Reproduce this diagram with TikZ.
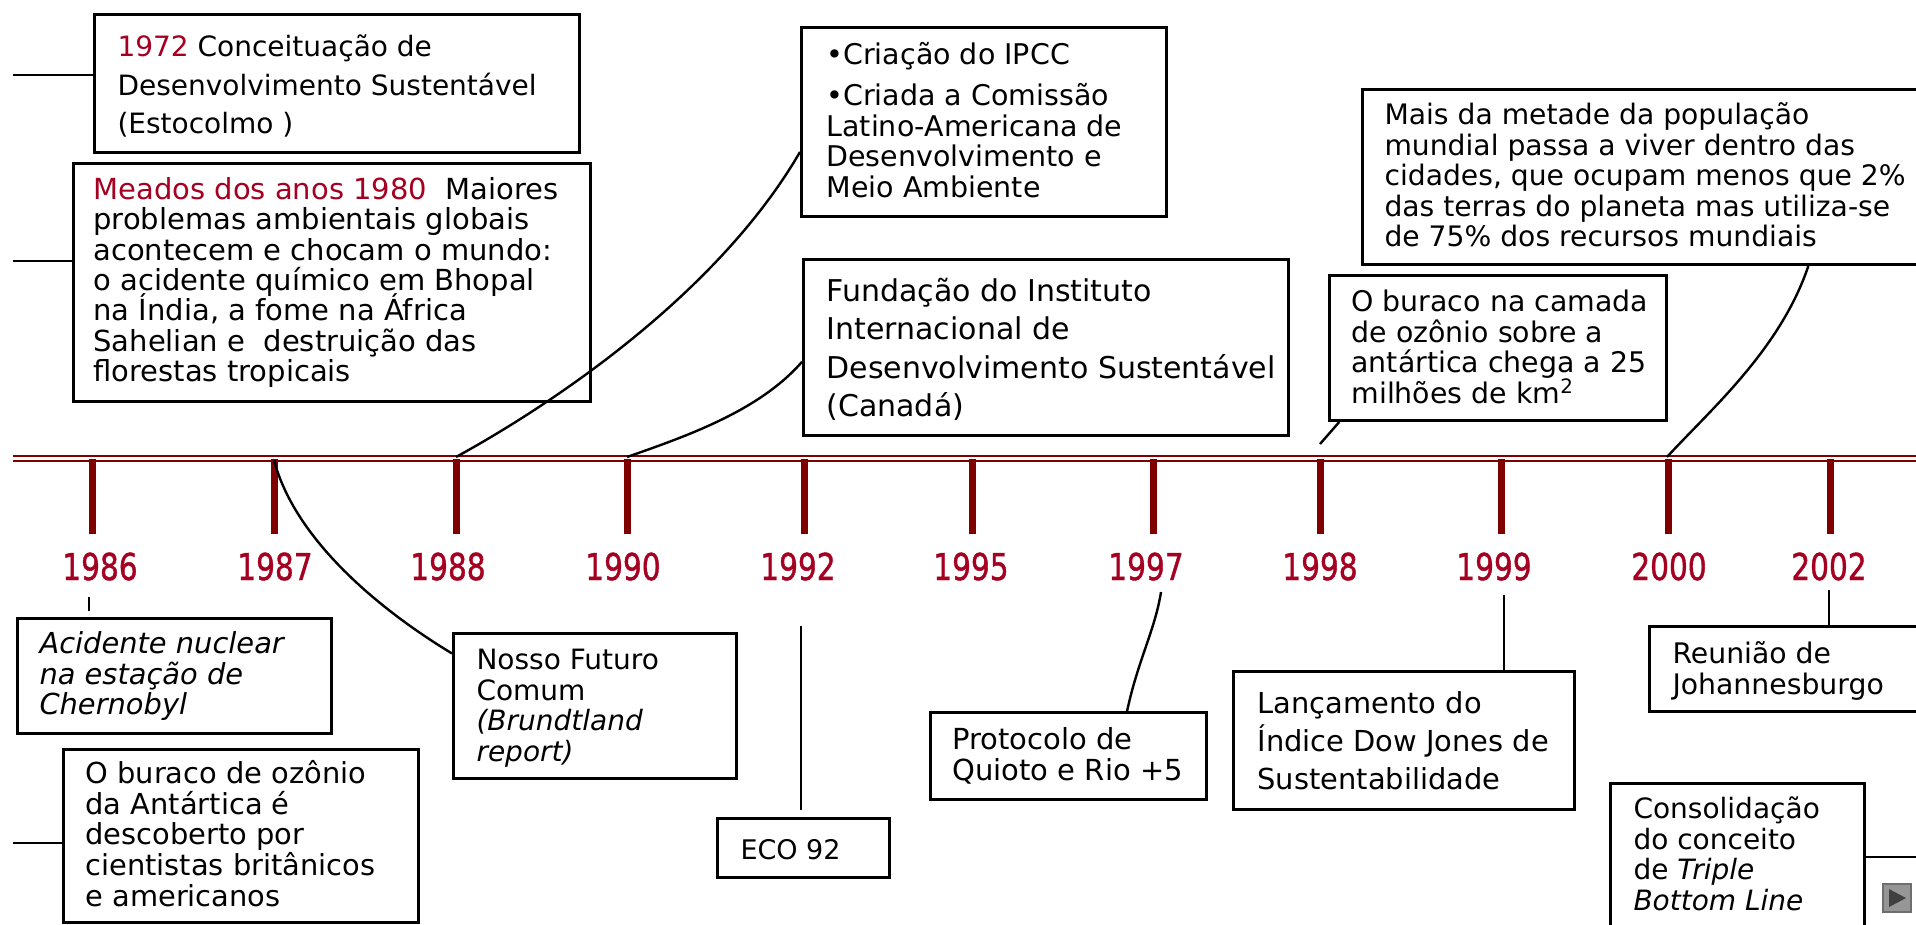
\documentclass[tikz,border=0pt]{standalone}
\usepackage{fontspec}
\setmainfont{DejaVu Sans}
\newfontfamily\yrfont[FakeBold=1.2]{DejaVu Sans}
\usepackage{graphicx}
\usetikzlibrary{calc}
\definecolor{yr}{RGB}{165,0,33}
\definecolor{tlc}{RGB}{128,0,0}
\definecolor{btn}{RGB}{150,150,150}
\definecolor{btnb}{RGB}{110,110,110}
\definecolor{btnt}{RGB}{64,64,64}
\newcommand\tbx[5]{\parbox[t][#2][t]{#1}{\selectfont\raggedright\leftskip=#3\relax\lineskiplimit=-200pt\relax\rule{0pt}{#4}#5}}
\newcommand\tline[1]{\mbox{#1}\par}
\begin{document}
\begin{tikzpicture}[x=1pt,y=-1pt,
  box/.style={draw=black, line width=3pt, inner sep=0pt, anchor=north west, fill=white},
  conn/.style={draw=black, line width=2.4pt},
  thinconn/.style={draw=black, line width=1.3pt},
  yearlbl/.style={anchor=base, inner sep=0pt, text=yr, font=\yrfont\fontsize{37}{40}\selectfont},
  tick/.style={draw=tlc, line width=7pt}]
\useasboundingbox (0,0) rectangle (1916,924);
\clip (0,0) rectangle (1916,924);
\fill[white] (0,0) rectangle (1916,924);

% timeline
\draw[tlc, line width=2.2pt] (13,456.3) -- (1916,456.3);
\draw[tlc, line width=2.4pt] (13,461.2) -- (1916,461.2);
\foreach \x in {92,274,456,627,804,972,1153,1320,1501,1668,1830}
  \draw[tick] (\x,459) -- (\x,534);

% years
\foreach \yy/\xx in {1986/100,1987/275,1988/448,1990/623,1992/798,1995/971,1997/1146,1998/1320,1999/1494,2000/1669,2002/1829}
  \node[yearlbl] (y\yy) at (\xx,580) {\scalebox{0.8}[1]{\yy}};

\coordinate (t1987) at (274,460);
\coordinate (t1988) at (456,457);
\coordinate (t1990) at (627,457);
\coordinate (t2000) at (1667,457);

% boxes
\node[box, font=\fontsize{28}{38.5}\selectfont] (A) at (93,13)
 {\tbx{485pt}{138pt}{23pt}{42pt}{\tline{\textcolor{yr}{1972} Conceituação de}\tline{Desenvolvimento Sustentável}\tline{(Estocolmo )}}};

\node[box, font=\fontsize{29}{30.3}\selectfont] (B) at (72,162)
 {\tbx{517pt}{238pt}{20pt}{36pt}{\tline{\textcolor{yr}{Meados dos anos 1980}\ \ Maiores}\tline{problemas ambientais globais}\tline{acontecem e chocam o mundo:}\tline{o acidente químico em Bhopal}\tline{na Índia, a fome na África}\tline{Sahelian e\ \ destruição das}\tline{florestas tropicais}}};

\node[box, font=\fontsize{28.5}{30.5}\selectfont] (C) at (800,26)
 {\tbx{365pt}{189pt}{25pt}{37pt}{\tline{•Criação do IPCC}\vspace{10.5pt}\tline{•Criada a Comissão}\tline{Latino-Americana de}\tline{Desenvolvimento e}\tline{Meio Ambiente}}};

\node[box, font=\fontsize{30}{38.4}\selectfont] (D) at (802,258)
 {\tbx{485pt}{176pt}{23pt}{42pt}{\tline{Fundação do Instituto}\tline{Internacional de}\tline{Desenvolvimento Sustentável}\tline{(Canadá)}}};

\node[box, font=\fontsize{28.2}{30.5}\selectfont] (E) at (1361,88)
 {\tbx{579pt}{175pt}{22pt}{35pt}{\tline{Mais da metade da população}\tline{mundial passa a viver dentro das}\tline{cidades, que ocupam menos que 2\%}\tline{das terras do planeta mas utiliza-se}\tline{de 75\% dos recursos mundiais}}};

\node[box, font=\fontsize{28.4}{30.5}\selectfont] (F) at (1328,274)
 {\tbx{337pt}{145pt}{22pt}{36pt}{\tline{O buraco na camada}\tline{de ozônio sobre a}\tline{antártica chega a 25}\tline{milhões de km\textsuperscript{2}}}};

\node[box, font=\fontsize{28.9}{30.5}\selectfont\itshape] (G) at (16,617)
 {\tbx{314pt}{115pt}{22pt}{35pt}{\tline{Acidente nuclear}\tline{na estação de}\tline{Chernobyl}}};

\node[box, font=\fontsize{28.9}{30.7}\selectfont] (H) at (62,748)
 {\tbx{355pt}{173pt}{22pt}{34pt}{\tline{O buraco de ozônio}\tline{da Antártica é}\tline{descoberto por}\tline{cientistas britânicos}\tline{e americanos}}};

\node[box, font=\fontsize{28}{30.5}\selectfont] (I) at (452,632)
 {\tbx{283pt}{145pt}{23pt}{36pt}{\tline{Nosso Futuro}\tline{Comum}\tline{\textit{(Brundtland}}\tline{\textit{report)}}}};

\node[box, font=\fontsize{27}{30}\selectfont] (J) at (716,817)
 {\tbx{172pt}{59pt}{23pt}{41pt}{\tline{ECO 92}}};

\node[box, font=\fontsize{29}{31}\selectfont] (K) at (929,711)
 {\tbx{276pt}{87pt}{22pt}{37pt}{\tline{Protocolo de}\tline{Quioto e Rio +5}}};

\node[box, font=\fontsize{28.9}{38}\selectfont] (L) at (1232,670)
 {\tbx{341pt}{138pt}{24pt}{42pt}{\tline{Lançamento do}\tline{Índice Dow Jones de}\tline{Sustentabilidade}}};

\node[box, font=\fontsize{28.3}{31}\selectfont] (M) at (1648,625)
 {\tbx{300pt}{85pt}{23pt}{37pt}{\tline{Reunião de}\tline{Johannesburgo}}};

\node[box, font=\fontsize{28}{30.5}\selectfont] (N) at (1609,782)
 {\tbx{254pt}{170pt}{23pt}{35pt}{\tline{Consolidação}\tline{do conceito}\tline{de \textit{Triple}}\tline{\textit{Bottom Line}}}};

% connectors
\coordinate (lA) at (13,75);
\draw[conn] (lA) -- (lA -| A.west);
\coordinate (lB) at (13,261);
\draw[conn] (lB) -- (lB -| B.west);
\coordinate (lH) at (13,843);
\draw[conn] (lH) -- (lH -| H.west);
\coordinate (rN) at (1916,857);
\draw[conn] (rN) -- (rN -| N.east);
\coordinate (g86) at (89,597);
\draw[conn, line width=2pt, shorten >=6pt] (g86) -- (g86 |- G.north);
\draw[conn] (t1987) .. controls (295,540) and (380,610) .. ($(I.north west)!0.145!(I.south west)$);
\draw[conn] (t1988) .. controls (560,400) and (720,290) .. ($(C.north west)!0.656!(C.south west)$);
\draw[conn] (t1990) .. controls (690,435) and (760,410) .. ($(D.north west)!0.58!(D.south west)$);
\coordinate (e92) at (801,626);
\draw[thinconn, shorten >=7pt] (e92) -- (e92 |- J.north);
\coordinate (k97) at (1161,592);
\draw[conn] ($(K.north west)!0.71!(K.north east)$) .. controls (1138,660) and (1155,630) .. (k97);
\coordinate (l99) at (1504,595);
\draw[conn, line width=2pt] (l99) -- (l99 |- L.north);
\coordinate (m02) at (1829,590);
\draw[conn, line width=2pt] (m02) -- (m02 |- M.north);
\coordinate (f98) at (1320,444);
\draw[conn] ($(F.south west)!0.033!(F.south east)$) -- (f98);
\draw[conn] ($(E.south west)!0.7686!(E.south east)$) .. controls (1780,350) and (1710,410) .. (t2000);

% navigation button
\draw[fill=btn, draw=btnb, line width=1.5pt] (1883,884) rectangle (1911,912);
\fill[btnt] (1889,889) -- (1889,907) -- (1906,898) -- cycle;
\end{tikzpicture}
\end{document}
